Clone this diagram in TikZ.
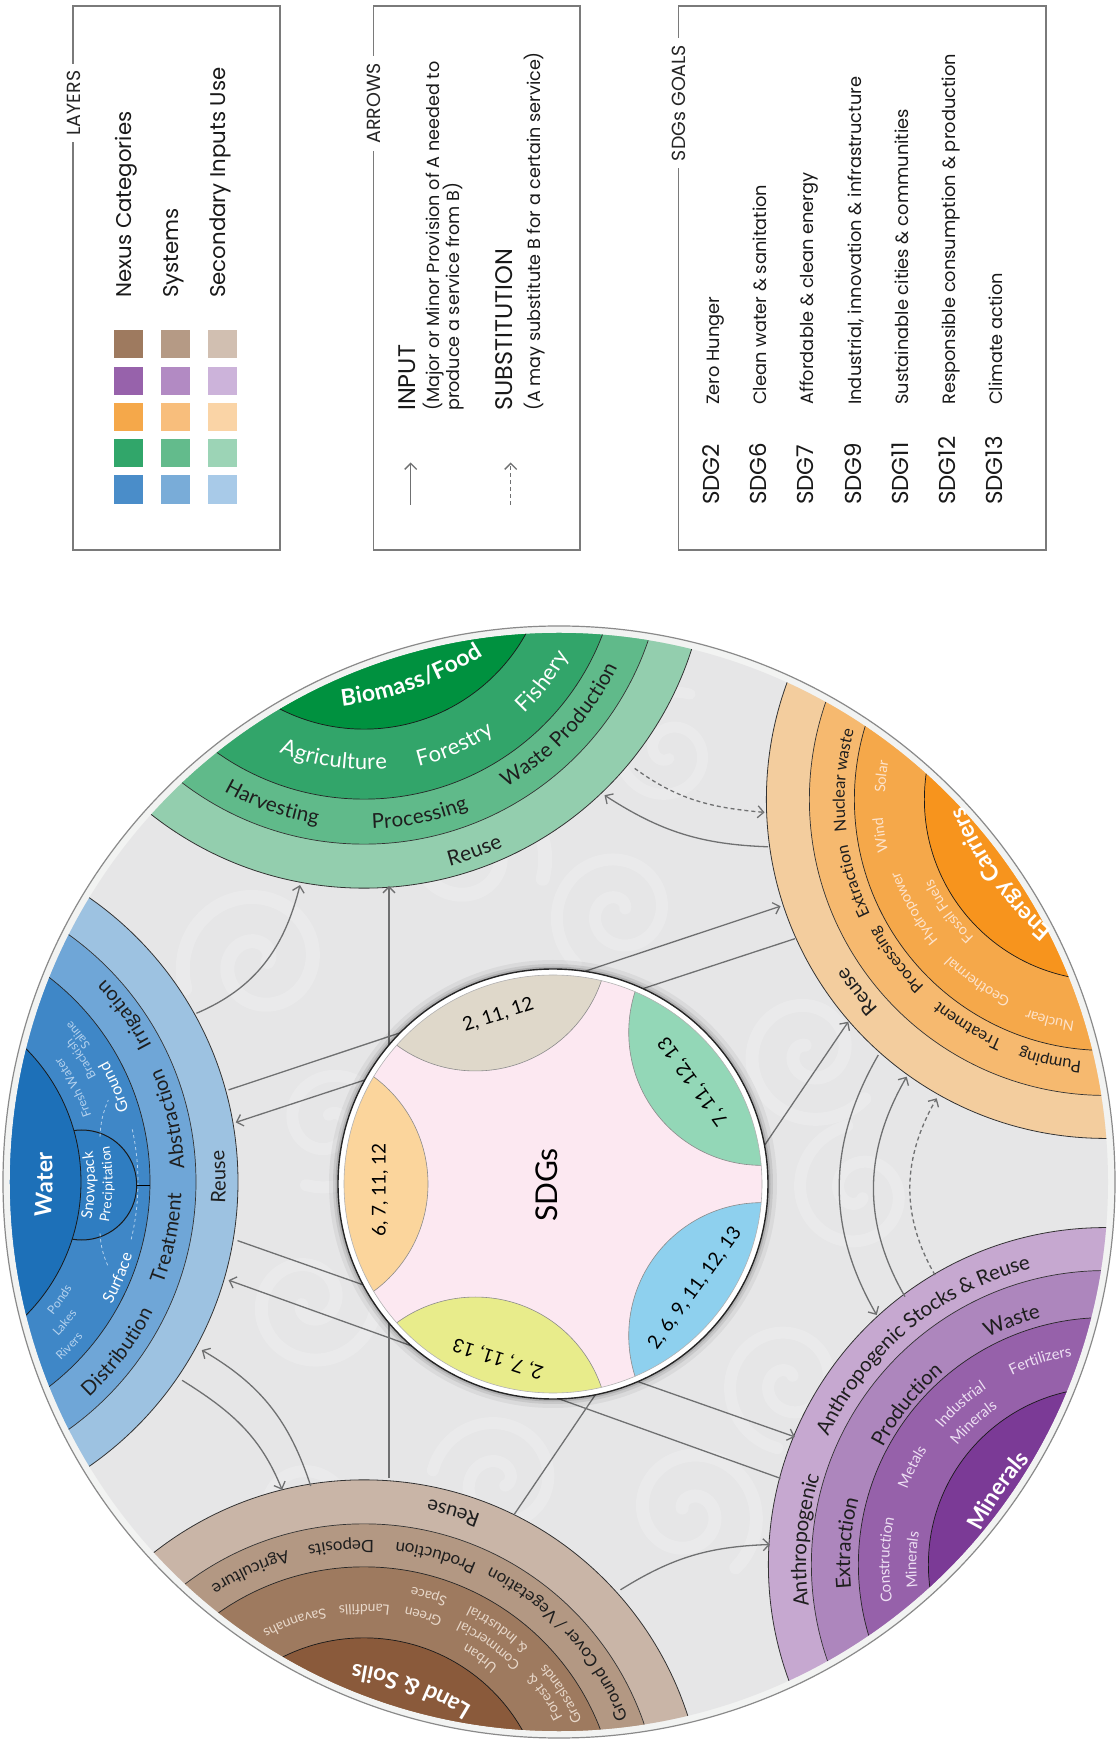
\documentclass[tikz,border=0pt]{standalone}
\usepackage{fontspec}
\setmainfont{Lato}
\newfontfamily\legfont{Poppins}
\usetikzlibrary{calc,decorations.text,arrows.meta}
\definecolor{wA}{HTML}{1D70B8}\definecolor{wB}{HTML}{3F87C7}\definecolor{wC}{HTML}{6FA6D7}\definecolor{wD}{HTML}{9DC2E1}\definecolor{wSnow}{HTML}{2F7DC1}
\definecolor{bA}{HTML}{00913F}\definecolor{bB}{HTML}{32A56A}\definecolor{bC}{HTML}{60BA8A}\definecolor{bD}{HTML}{93CEAE}
\definecolor{eA}{HTML}{F7941D}\definecolor{eB}{HTML}{F5A84A}\definecolor{eC}{HTML}{F6B96F}\definecolor{eD}{HTML}{F3CD9E}
\definecolor{mA}{HTML}{7B3A96}\definecolor{mB}{HTML}{9661AA}\definecolor{mC}{HTML}{AD86BD}\definecolor{mD}{HTML}{C6A8D0}
\definecolor{lA}{HTML}{8A5A3B}\definecolor{lB}{HTML}{9E7A5F}\definecolor{lC}{HTML}{B39883}\definecolor{lD}{HTML}{C9B5A7}
\definecolor{wsmall}{HTML}{B5D2EE}\definecolor{esmall}{HTML}{FDE3CC}\definecolor{msmall}{HTML}{EDDFF3}\definecolor{lsmall}{HTML}{E8D8CA}
\definecolor{txt}{HTML}{1E1E1E}
\definecolor{pinkbg}{HTML}{FCE8F1}
\definecolor{pBeige}{HTML}{DFD8CA}\definecolor{pGreen}{HTML}{93D7B7}\definecolor{pBlue}{HTML}{8ED0EE}\definecolor{pYellow}{HTML}{E8EC8B}\definecolor{pOrange}{HTML}{FBD59C}
\definecolor{bgc}{HTML}{E6E6E7}\definecolor{rimc}{HTML}{F2F3F2}\definecolor{rimline}{HTML}{8A8A8A}
\definecolor{arrc}{HTML}{6F7071}\definecolor{legline}{HTML}{7A7A7A}
\definecolor{s11}{HTML}{9E7A5F}\definecolor{s12}{HTML}{B59A85}\definecolor{s13}{HTML}{D1BFB1}
\definecolor{s21}{HTML}{9762AB}\definecolor{s22}{HTML}{B28AC3}\definecolor{s23}{HTML}{CCB3DA}
\definecolor{s31}{HTML}{F5A84A}\definecolor{s32}{HTML}{F8BE7C}\definecolor{s33}{HTML}{FAD4A6}
\definecolor{s41}{HTML}{31A66A}\definecolor{s42}{HTML}{63BB8C}\definecolor{s43}{HTML}{9CD4B6}
\definecolor{s51}{HTML}{4A8DC9}\definecolor{s52}{HTML}{79ACD8}\definecolor{s53}{HTML}{A8CAE8}
\newcommand\fsz[1]{\fontsize{#1}{#1}\selectfont}
% #1 centre, #2 radius, #3 mid angle, #4 dir (1 ccw, -1 cw), #5 size, #6 font extra, #7 colour, #8 text
\newcommand\arcl[8]{%
  \pgfmathsetmacro\arcA{#3-(#4)*75}%
  \pgfmathsetmacro\arcB{#3+(#4)*75}%
  \pgfmathsetmacro\arcR{-0.33*#5}%
  \path[decorate,decoration={text along path,text align=center,raise=\arcR pt,
    text={|\fsz{#5}#6\color{#7}|#8}}] ($(#1)+(\arcA:#2)$) arc[start angle=\arcA,end angle=\arcB,radius=#2];}
% same, but the text follows a flatter arc of radius #9 through the same point
\newcommand\arclf[9]{%
  \pgfmathsetmacro\arcA{#3-(#4)*40}%
  \pgfmathsetmacro\arcB{#3+(#4)*40}%
  \pgfmathsetmacro\arcR{-0.33*#5}%
  \pgfmathsetmacro\arcO{#2-#9}%
  \path[decorate,decoration={text along path,text align=center,raise=\arcR pt,
    text={|\fsz{#5}#6\color{#7}|#8}}] ($(#1)+(#3:\arcO)+(\arcA:#9)$) arc[start angle=\arcA,end angle=\arcB,radius=#9];}
\newcommand\rings[9]{%
  \filldraw[fill=#6,draw=black!80,line width=0.8] (#1) circle (#2);
  \filldraw[fill=#7,draw=black!80,line width=0.7] (#1) circle (#3);
  \filldraw[fill=#8,draw=black!85,line width=0.7] (#1) circle (#4);
  \filldraw[fill=#9,draw=black!90,line width=0.7] (#1) circle (#5);}
% x, y, size, start rotation, turn direction (1/-1)
\newcommand\swirl[5]{%
  \draw[white,opacity=0.17,line width=#3*0.2,line cap=round] plot[domain=0:560,samples=70,smooth]
    ({#1+#3*(0.12+\x/560)*cos(#5*\x+#4)},{#2+#3*(0.12+\x/560)*sin(#5*\x+#4)});}
\tikzset{
  legbox/.style={draw=legline,line width=1.6},
  hdr/.style={rotate=90,fill=white,inner xsep=7pt,inner ysep=1pt,font=\legfont\fsz{19},text=black!85},
  legitem/.style={rotate=90,anchor=mid west,inner sep=0pt,font=\legfont\fsz{21.3},text=black!90},
  legsmall/.style={rotate=90,anchor=mid west,inner sep=0pt,font=\legfont\fsz{17.6},text=black!90},
  arr/.style={draw=arrc,line width=1.3,-{Straight Barb[length=6pt,width=12pt]}},
  dsh/.style={dash pattern=on 4pt off 3pt},
  sdgl/.style={font=\fsz{19},text=black,inner sep=0pt},
}
\begin{document}
\begin{tikzpicture}[x=1pt,y=1pt]
\useasboundingbox (-559,-560) rectangle (559,1182);
\fill[white] (-559,-560) rectangle (559,1182);

% ---------------- legend: LAYERS
\draw[legbox] (-486,632) rectangle (-279,1176);
\node[hdr] (hL) at (-485.5,1079) {LAYERS};
\fill[s11] (-445,824) rectangle (-416,852); \fill[s12] (-398,824) rectangle (-369,852); \fill[s13] (-351,824) rectangle (-322,852);
\fill[s21] (-445,787) rectangle (-416,815); \fill[s22] (-398,787) rectangle (-369,815); \fill[s23] (-351,787) rectangle (-322,815);
\fill[s31] (-445,751) rectangle (-416,779); \fill[s32] (-398,751) rectangle (-369,779); \fill[s33] (-351,751) rectangle (-322,779);
\fill[s41] (-445,715) rectangle (-416,743); \fill[s42] (-398,715) rectangle (-369,743); \fill[s43] (-351,715) rectangle (-322,743);
\fill[s51] (-445,678) rectangle (-416,707); \fill[s52] (-398,678) rectangle (-369,707); \fill[s53] (-351,678) rectangle (-322,707);
\node[legitem] (l1) at (-430.5,884) {Nexus Categories};
\node[legitem] (l2) at (-383.5,884) {Systems};
\node[legitem] (l3) at (-336.5,884) {Secondary Inputs Use};

% ---------------- legend: ARROWS
\draw[legbox] (-185.4,632) rectangle (21,1176);
\node[hdr] (hA) at (-185.4,1078.5) {ARROWS};
\coordinate (ia0) at (-148.3,677); \coordinate (ia1) at (-148.3,719.5);
\coordinate (sa0) at (-48.3,677); \coordinate (sa1) at (-48.3,719.5);
\draw[arr] (ia0) -- (ia1);
\draw[arr,dsh] (sa0) -- (sa1);
\node[legitem,font=\legfont\fsz{24}] (t1) at (-146,771) {INPUT};
\node[legsmall] (t2) at (-122,771) {(Major or Minor Provision of A needed to};
\node[legsmall] (t3) at (-102,771) {produce a service from B)};
\node[legitem,font=\legfont\fsz{24}] (t4) at (-49,771) {SUBSTITUTION};
\node[legsmall] (t5) at (-21,771) {(A may substitute B for a certain service)};

% ---------------- legend: SDGs GOALS
\draw[legbox] (119.6,632) rectangle (487,1176);
\node[hdr] (hS) at (119.6,1079) {SDGs GOALS};
\foreach \k/\code/\desc in {0/SDG2/Zero Hunger,1/SDG6/Clean water \& sanitation,2/SDG7/Affordable \& clean energy,3/SDG9/{Industrial, innovation \& infrastructure},4/SDG11/Sustainable cities \& communities,5/SDG12/Responsible consumption \& production,6/SDG13/Climate action}{
  \node[legitem,font=\legfont\fsz{23}] (c\k) at (158+47.2*\k,677) {\code};
  \node[legitem,font=\legfont\fsz{17.8}] (d\k) at (158+47.2*\k,777) {\desc};
}

% ---------------- main circle
\fill[rimc,draw=rimline,line width=1.2] (0,0) circle (556);
\fill[bgc] (0,0) circle (549);
\begin{scope}
\clip (0,0) circle (549);
\swirl{-300}{220}{70}{0}{1}
\swirl{-230}{60}{60}{90}{-1}
\swirl{-250}{-120}{65}{200}{1}
\swirl{-260}{-330}{60}{40}{-1}
\swirl{-90}{330}{70}{180}{-1}
\swirl{60}{270}{60}{30}{1}
\swirl{110}{430}{55}{270}{-1}
\swirl{250}{130}{65}{120}{1}
\swirl{300}{-10}{60}{300}{-1}
\swirl{230}{-200}{60}{60}{1}
\swirl{130}{-330}{65}{150}{-1}
\swirl{-60}{-300}{60}{330}{1}
\swirl{-40}{-450}{50}{100}{-1}
\swirl{420}{250}{45}{220}{1}
\swirl{420}{-260}{45}{20}{-1}
\end{scope}

\coordinate (CW) at (180:667);
\coordinate (CB) at (107:667);
\coordinate (CE) at (35:667);
\coordinate (CM) at (-35:667);
\coordinate (CL) at (-107:667);

\begin{scope}
\clip (0,0) circle (549);
% water
\filldraw[fill=wD,draw=black!80,line width=0.8] (CW) circle (346);
\filldraw[fill=wC,draw=black!80,line width=0.7] (CW) circle (304);
\filldraw[fill=wB,draw=black!85,line width=0.7] (CW) circle (258);
\filldraw[fill=wSnow,draw=black!90,line width=1] (-477.3,-3) circle (55);
\filldraw[fill=wA,draw=black!90,line width=0.8] (CW) circle (189);
% others
\rings{CB}{344}{300}{255}{185}{bD}{bC}{bB}{bA}
\rings{CE}{339}{296}{251}{181}{eD}{eC}{eB}{eA}
\rings{CM}{337}{294}{247}{177}{mD}{mC}{mB}{mA}
\rings{CL}{340}{296}{253}{182}{lD}{lC}{lB}{lA}
\end{scope}

% water extras
\draw[wsmall,dashed,line width=0.8] ($(CW)+(-13.5:246)$) arc[start angle=-13.5,end angle=12.5,radius=246];
\draw[wsmall,dashed,line width=0.8] (-459,45.3) to[bend left=10] (-450.7,82);
\draw[wsmall,dashed,line width=0.8] (-459,-51.3) to[bend right=10] (-450.7,-84.7);
\draw[black,line width=0.8] (-422.3,-3) -- (-409,-3);

% ---------------- labels: water
\arclf{CW}{153}{-1}{1}{23}{\bfseries}{white}{Water}{400}
\arcl{CW}{198}{-1}{1}{15}{}{white}{Snowpack}
\arcl{CW}{216}{-0.5}{1}{13.5}{}{white}{Precipitation}
\arcl{CW}{206}{27.5}{1}{12}{}{wsmall}{Fresh Water}
\arcl{CW}{226}{33}{1}{12}{}{wsmall}{Brackish}
\arcl{CW}{237}{38.3}{1}{12}{}{wsmall}{Saline}
\arcl{CW}{242}{23}{1}{16}{}{white}{Ground}
\arcl{CW}{246}{-23}{1}{16}{}{white}{Surface}
\arcl{CW}{205}{-35}{1}{12}{}{wsmall}{Ponds}
\arcl{CW}{223}{-39.2}{1}{12}{}{wsmall}{Lakes}
\arcl{CW}{242}{-42.8}{1}{12}{}{wsmall}{Rivers}
\arcl{CW}{287}{35.7}{1}{20}{}{txt}{Irrigation}
\arcl{CW}{286}{12.8}{1}{20}{}{txt}{Abstraction}
\arcl{CW}{283}{-11.5}{1}{20}{}{txt}{Treatment}
\arcl{CW}{285}{-37}{1}{20}{}{txt}{Distribution}
\arcl{CW}{327}{0.9}{1}{20}{}{txt}{Reuse}
% biomass
\arclf{CB}{146}{-70.3}{1}{23}{\bfseries}{white}{Biomass/Food}{330}
\arcl{CB}{218}{-98.1}{1}{22}{}{white}{Agriculture}
\arcl{CB}{222}{-65.8}{1}{22}{}{white}{Forestry}
\arcl{CB}{226}{-37.5}{1}{22}{}{white}{Fishery}
\arcl{CB}{277}{-109.5}{1}{20.5}{}{txt}{Harvesting}
\arcl{CB}{278}{-78.4}{1}{20.5}{}{txt}{Processing}
\arcl{CB}{275}{-42.8}{1}{20.5}{}{txt}{Waste Production}
\arcl{CB}{326}{-70.2}{1}{21}{}{txt}{Reuse}
% energy
\arclf{CE}{136}{215.5}{-1}{23}{\bfseries}{white}{Energy Carriers}{330}
\arcl{CE}{225}{174.2}{-1}{14.5}{}{esmall}{Solar}
\arcl{CE}{228}{189}{-1}{14.5}{}{esmall}{Wind}
\arcl{CE}{223}{209.7}{-1}{14.5}{}{esmall}{Hydropower}
\arcl{CE}{195}{215.6}{-1}{14.5}{}{esmall}{Fossil Fuels}
\arcl{CE}{225}{234.9}{-1}{14.5}{}{esmall}{Geothermal}
\arcl{CE}{229}{255.9}{-1}{14.5}{}{esmall}{Nuclear}
\arcl{CE}{266}{175.8}{-1}{16.5}{}{txt}{Nuclear waste}
\arcl{CE}{267}{198}{-1}{16.5}{}{txt}{Extraction}
\arcl{CE}{266}{217.6}{-1}{16.5}{}{txt}{Processing}
\arcl{CE}{267}{238.7}{-1}{16.5}{}{txt}{Treatment}
\arcl{CE}{268}{258}{-1}{16.5}{}{txt}{Pumping}
\arcl{CE}{315}{217.7}{-1}{20}{}{txt}{Reuse}
% minerals
\arclf{CM}{132}{145.6}{-1}{23}{\bfseries}{white}{Minerals}{330}
\arcl{CM}{216}{107.7}{-1}{15}{}{msmall}{Fertilizers}
\arcl{CM}{217}{132.1}{-1}{15}{}{msmall}{Industrial}
\arcl{CM}{195}{132.8}{-1}{15}{}{msmall}{Minerals}
\arcl{CM}{217}{153.2}{-1}{15}{}{msmall}{Metals}
\arcl{CM}{221}{178.8}{-1}{15}{}{msmall}{Construction}
\arcl{CM}{194}{178.6}{-1}{15}{}{msmall}{Minerals}
\arcl{CM}{262}{111}{-1}{20.5}{}{txt}{Waste}
\arcl{CM}{258}{141.2}{-1}{20.5}{}{txt}{Production}
\arcl{CM}{262}{175.3}{-1}{20.5}{}{txt}{Extraction}
\arcl{CM}{312}{129.7}{-1}{20.5}{}{txt}{Anthropogenic Stocks {\&} Reuse}
\arcl{CM}{306}{175.3}{-1}{20.5}{}{txt}{Anthropogenic}
% land
\arclf{CL}{142}{70.1}{1}{23}{\bfseries}{white}{Land {\&} Soils}{300}
\arcl{CL}{210}{109.3}{1}{14}{}{lsmall}{Savannahs}
\arcl{CL}{211}{89.9}{1}{14}{}{lsmall}{Landfills}
\arcl{CL}{212}{73.8}{1}{14}{}{lsmall}{Green}
\arcl{CL}{233}{73.9}{1}{14}{}{lsmall}{Space}
\arcl{CL}{199}{54.3}{1}{14}{}{lsmall}{Urban}
\arcl{CL}{216}{54.5}{1}{14}{}{lsmall}{Commercial}
\arcl{CL}{234}{55}{1}{14}{}{lsmall}{{\&} Industrial}
\arcl{CL}{219}{34.2}{1}{14}{}{lsmall}{Forest {\&}}
\arcl{CL}{235}{32.6}{1}{14}{}{lsmall}{Grasslands}
\arcl{CL}{274}{114.6}{1}{17}{}{txt}{Agriculture}
\arcl{CL}{274}{94.8}{1}{17}{}{txt}{Deposits}
\arcl{CL}{274}{74.8}{1}{17}{}{txt}{Production}
\arcl{CL}{277}{42.2}{1}{17}{}{txt}{Ground Cover / Vegetation}
\arcl{CL}{320}{73.8}{1}{20}{}{txt}{Reuse}

% ---------------- connectors
\coordinate (wb0) at (-362.6,168.7); \coordinate (wb1) at (-259,296.9);
\coordinate (lb0) at (-170,-296); \coordinate (lb1) at (-170,296);
\coordinate (we0) at (-330.4,92.1); \coordinate (we1) at (221.6,275.8);
\coordinate (ew0) at (235.9,243.3); \coordinate (ew1) at (-323.3,59.6);
\coordinate (wm0) at (-321.5,-58.6); \coordinate (wm1) at (235.9,-254.9);
\coordinate (mw0) at (221.6,-296.4); \coordinate (mw1) at (-330.4,-98.2);
\coordinate (wl0) at (-376.9,-198.3); \coordinate (wl1) at (-276.9,-307.8);
\coordinate (lw0) at (-248.3,-304); \coordinate (lw1) at (-357.2,-168.1);
\coordinate (lm0) at (61.5,-407.8); \coordinate (lm1) at (211,-362.5);
\coordinate (le0) at (-44.7,-332.3); \coordinate (le1) at (289.3,160.3);
\coordinate (em0) at (319.3,127); \coordinate (em1) at (317.7,-133);
\coordinate (me0) at (346,-114.7); \coordinate (me1) at (347.7,105.3);
\coordinate (md0) at (376,-93); \coordinate (md1) at (377.7,83.7);
\coordinate (bd0) at (75.7,413.6); \coordinate (bd1) at (205.6,369.6);
\coordinate (eb0) at (209.2,335.2); \coordinate (eb1) at (45.5,386.8);
\draw[arr] (wb0) to[out=23,in=256] (wb1);
\draw[arr] (lb0) -- (lb1);
\draw[arr] (we0) -- (we1);
\draw[arr] (ew0) -- (ew1);
\draw[arr] (wm0) -- (wm1);
\draw[arr] (mw0) -- (mw1);
\draw[arr] (wl0) to[out=-32,in=112] (wl1);
\draw[arr] (lw0) to[out=108,in=-30] (lw1);
\draw[arr] (lm0) to[out=32,in=182] (lm1);
\draw[arr] (le0) -- (le1);
\draw[arr] (em0) to[out=240,in=120] (em1);
\draw[arr] (me0) to[out=120,in=240] (me1);
\draw[arr,dsh] (md0) to[out=120,in=240] (md1);
\draw[arr,dsh] (bd0) to[out=-36,in=175] (bd1);
\draw[arr] (eb0) to[out=178,in=-33] (eb1);

% ---------------- SDG circle
\coordinate (S) at (-6,-2);
\fill[black,opacity=0.05] (S) circle (224);
\fill[black,opacity=0.08] (S) circle (220);
\fill[black,opacity=0.12] (S) circle (217.5);
\filldraw[fill=white,draw=black!85,line width=1.4] (S) circle (215);
\fill[pinkbg] (S) circle (209);
\begin{scope}
\clip (S) circle (209);
\filldraw[fill=pBeige,draw=black!45,line width=0.6] ($(S)+(107.5:258)$) circle (133);
\filldraw[fill=pGreen,draw=black!45,line width=0.6] ($(S)+(36:258)$) circle (133);
\filldraw[fill=pBlue,draw=black!45,line width=0.6] ($(S)+(-36:258)$) circle (133);
\filldraw[fill=pYellow,draw=black!45,line width=0.6] ($(S)+(-107.5:258)$) circle (133);
\filldraw[fill=pOrange,draw=black!45,line width=0.6] ($(S)+(180:258)$) circle (133);
\end{scope}
\draw[black!30,line width=0.6] (S) circle (209);
\node[sdgl,rotate=18] (s1) at (-60.7,167) {2, 11, 12};
\node[sdgl,rotate=126] (s2) at (134.3,100.3) {7, 11, 12, 13};
\node[sdgl,rotate=54] (s3) at (136,-106.3) {2, 6, 9, 11, 12, 13};
\node[sdgl,rotate=162] (s4) at (-60.7,-176.3) {2, 7, 11, 13};
\node[sdgl,rotate=90] (s5) at (-179,-8) {6, 7, 11, 12};
\node[rotate=90,font=\fsz{30},inner sep=0pt] (sd) at (-12.3,-3) {SDGs};
\end{tikzpicture}
\end{document}
